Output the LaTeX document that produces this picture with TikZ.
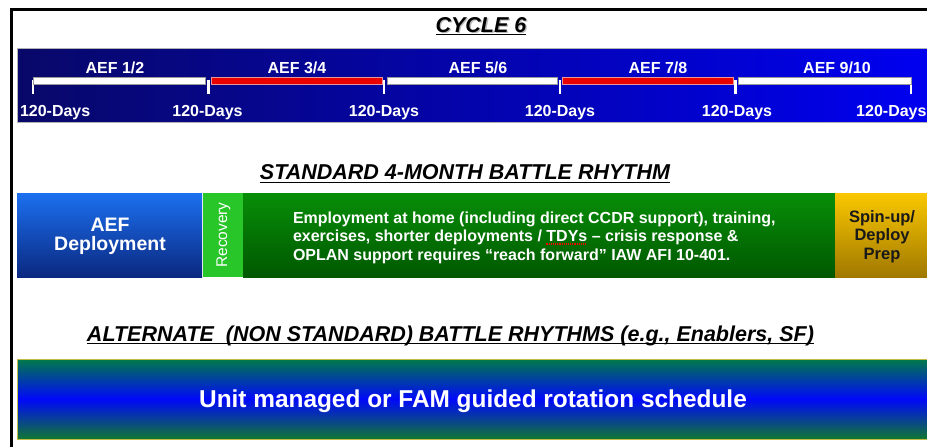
\documentclass[tikz,border=0pt]{standalone}
\usepackage{fontspec}
\setmainfont{Liberation Sans}
\newsavebox\sqbox
\newcommand\redsq[1]{\sbox\sqbox{#1}\rlap{\raisebox{-3pt}{\textcolor{red}{\hbox to \wd\sqbox{\xleaders\hbox{\rule{1.2pt}{1.1pt}\kern0.9pt}\hfill}}}}#1}
\definecolor{navyL}{RGB}{8,8,105}
\definecolor{blueR}{RGB}{0,0,240}
\definecolor{depT}{RGB}{28,112,240}
\definecolor{depB}{RGB}{10,40,128}
\definecolor{recG}{RGB}{40,198,40}
\definecolor{empT}{RGB}{8,142,8}
\definecolor{empB}{RGB}{0,88,0}
\definecolor{goldT}{RGB}{250,200,0}
\definecolor{goldB}{RGB}{160,120,0}
\definecolor{altT}{RGB}{0,122,72}
\definecolor{altM}{RGB}{0,8,250}
\definecolor{altB}{RGB}{16,120,50}
\definecolor{altEdge}{RGB}{196,186,70}
\definecolor{barRed}{RGB}{235,0,0}
\definecolor{barRedEdge}{RGB}{230,150,150}
\begin{document}
\begin{tikzpicture}[x=1pt,y=-1pt,
  every node/.style={inner sep=0pt,outer sep=0pt},
  head/.style={font=\bfseries\itshape\fontsize{21.5}{24}\selectfont,anchor=base},
  tl/.style={text=white,font=\bfseries\fontsize{16}{18}\selectfont,anchor=base},
  panel/.style={anchor=north west,minimum height=84},
  whitebar/.style={fill=white,draw=gray!80,line width=0.8pt},
  redbar/.style={fill=barRed,draw=barRedEdge,line width=0.8pt},
  tick/.style={draw=white,line width=2.5pt},
  uline/.style={draw=black,line width=1pt}]
\useasboundingbox (0,0) rectangle (927,447);
\fill[white] (0,0) rectangle (927,447);
% frame
\draw[line width=2.5pt] (11.5,449) -- (11.5,9.5) -- (929,9.5);
% title
\node[head,text=gray!55] (c6s) at (482.3,33.3) {CYCLE 6};
\node[head] (c6) at (481,32) {CYCLE 6};
\draw[uline] ([yshift=-2pt]c6.base west) -- ([yshift=-2pt]c6.base east);
% timeline band
\node[anchor=north west,minimum width=910,minimum height=74,left color=navyL,right color=blueR,draw=gray!60,line width=0.6pt] (band) at (17,48) {};
\coordinate (t0) at (33,80);
\coordinate (t1) at (208.5,80);
\coordinate (t2) at (384,80);
\coordinate (t3) at (560,80);
\coordinate (t4) at (735.5,80);
\coordinate (t5) at (911,80);
\foreach \t in {t0,t1,t2,t3,t4,t5}{\draw[tick] (\t) -- ([yshift=-14pt]\t);}
\path[whitebar] (33,77) rectangle (205,84);
\path[redbar] (211.5,77) rectangle (382,84);
\path[whitebar] (387,77) rectangle (557,84);
\path[redbar] (562.5,77) rectangle (733.5,84);
\path[whitebar] (738.5,77) rectangle (911,84);
\node[tl] (a12) at (115,73) {AEF 1/2};
\node[tl] (a34) at (297,73) {AEF 3/4};
\node[tl] (a56) at (478,73) {AEF 5/6};
\node[tl] (a78) at (658,73) {AEF 7/8};
\node[tl] (a910) at (837,73) {AEF 9/10};
\node[tl,anchor=base west] (d0) at (20,116) {120-Days};
\node[tl] (d1) at (207.5,116) {120-Days};
\node[tl] (d2) at (384,116) {120-Days};
\node[tl] (d3) at (560,116) {120-Days};
\node[tl] (d4) at (737,116) {120-Days};
\node[tl,anchor=base east] (d5) at (926.5,116) {120-Days};
% standard battle rhythm
\node[head] (std) at (465,179.5) {STANDARD 4-MONTH BATTLE RHYTHM};
\draw[uline] ([yshift=-2.5pt]std.base west) -- ([yshift=-2.5pt]std.base east);
\node[panel,minimum width=185,top color=depT,bottom color=depB] (dep) at (17,193) {};
\node[anchor=north,text=white,align=center,font=\bfseries\fontsize{19.5}{19}\selectfont] (depT) at (110,218.5) {AEF\\Deployment};
\node[panel,minimum width=40,fill=recG] (rec) at (203,193) {};
\node[rotate=90,text=white,font=\fontsize{15.5}{17}\selectfont] (recT) at ([xshift=0.5pt]rec.center) {Recovery};
\node[panel,minimum width=592,top color=empT,bottom color=empB] (emp) at (243,193) {};
\node[anchor=north west,align=left,text=white,font=\bfseries\fontsize{16}{18.5}\selectfont] (empT) at (293,211.5)
  {Employment at home (including direct CCDR support), training,\\
   exercises, shorter deployments / \redsq{TDYs} -- crisis response \&\\
   OPLAN support requires “reach forward” IAW AFI 10-401.};
\node[panel,minimum width=92,top color=goldT,bottom color=goldB] (spin) at (835,193) {};
\node[anchor=north,align=center,text=black!90,font=\bfseries\fontsize{16.5}{18.5}\selectfont] (spinT) at (882,210.5) {Spin-up/\\Deploy\\Prep};
% alternate
\node[head] (alt) at (450.5,341.5) {ALTERNATE\ \ (NON STANDARD) BATTLE RHYTHMS (e.g., Enablers, SF)};
\draw[uline] ([yshift=-2pt]alt.base west) -- ([yshift=-2pt]alt.base east);
\node[anchor=north west,minimum width=910,minimum height=80,top color=altT,bottom color=altB,middle color=altM,draw=altEdge,line width=1pt] (unit) at (17,359) {};
\node[text=white,anchor=base,font=\bfseries\fontsize{24.4}{28}\selectfont] (unitT) at (473,407) {Unit managed or FAM guided rotation schedule};
\end{tikzpicture}
\end{document}
